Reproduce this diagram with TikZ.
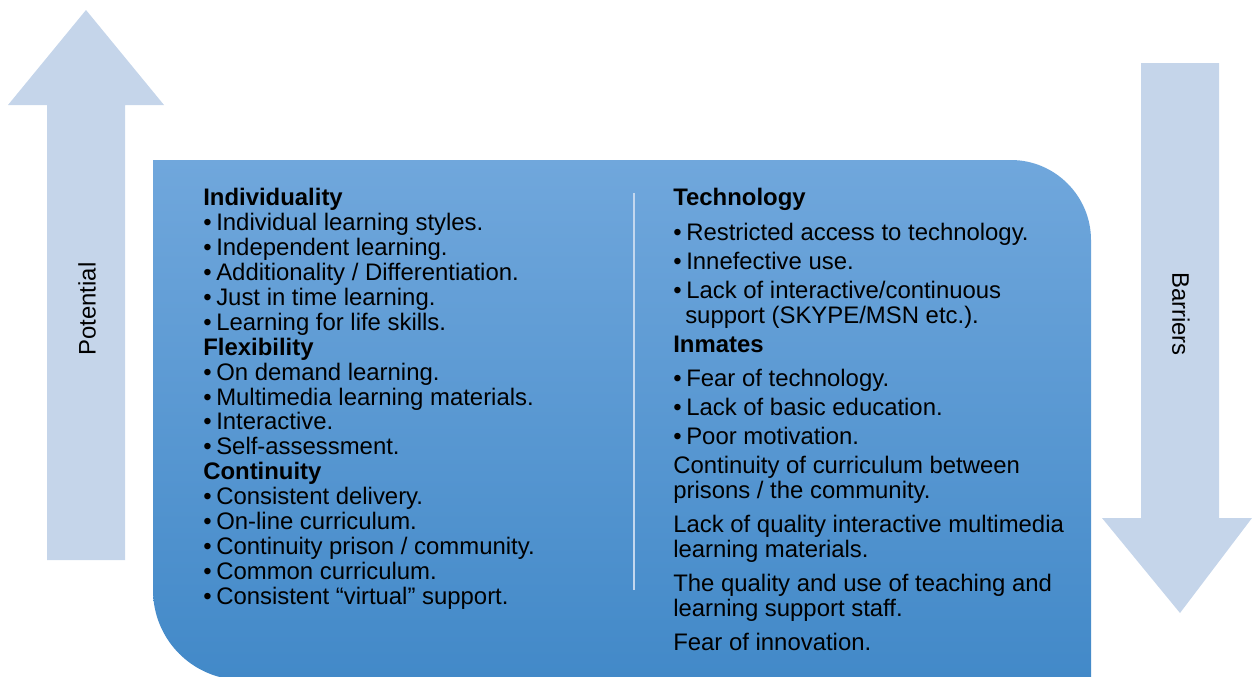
\documentclass[tikz,border=0pt]{standalone}
\usepackage{fontspec}
\setmainfont{Liberation Sans}
\usetikzlibrary{positioning}
\definecolor{arrowblue}{RGB}{197,213,234}
\definecolor{boxtop}{RGB}{112,167,220}
\definecolor{boxbottom}{RGB}{66,137,200}
\definecolor{divider}{RGB}{195,215,238}
\tikzset{
  item/.style={anchor=base west, inner sep=0pt, font=\fontsize{17}{20}\selectfont},
  head/.style={item, font=\fontsize{17}{20}\selectfont\bfseries},
  bigarrow/.style={fill=arrowblue, draw=none},
  side/.style={inner sep=0pt, font=\fontsize{17}{20}\selectfont}
}
\newcommand{\bul}{\textbullet\hspace{3.3pt}}

\begin{document}
\begin{tikzpicture}[x=0.025cm,y=-0.025cm]
  \useasboundingbox (0,0) rectangle (1252,677);
  \clip (0,0) rectangle (1252,677);
  % arrows at the sides
  \path[bigarrow] (86,10) -- (164,105) -- (125,105) -- (125,560) -- (47,560)
    -- (47,105) -- (8,105) -- cycle;
  \path[bigarrow] (1141,63) -- (1219,63) -- (1219,518) -- (1252,518) -- (1180,613)
    -- (1102,518) -- (1141,518) -- cycle;
  \node[side, rotate=90] (potential) at (87,309) {Potential};
  \node[side, rotate=-90] (barriers) at (1181,314) {Barriers};
  % the box
  \path[top color=boxtop, bottom color=boxbottom] (153,160) -- (1011,160)
    .. controls (1055,160) and (1091,196) .. (1091,240) -- (1091,680) -- (243,680)
    .. controls (193,680) and (153,640) .. (153,590) -- cycle;
  \draw[divider, line width=0.05cm] (634,193) -- (634,590);
  % left column
  \foreach \n/\t in {0/Individuality, 6/Flexibility, 11/Continuity}
    \node[head] (pothead\n) at (203,{205.5+24.94*\n}) {\t};
  \foreach \n/\t in {1/{Individual learning styles.}, 2/{Independent learning.},
      3/{Additionality / Differentiation.}, 4/{Just in time learning.},
      5/{Learning for life skills.}, 7/{On demand learning.},
      8/{Multimedia learning materials.}, 9/{Interactive.}, 10/{Self-assessment.},
      12/{Consistent delivery.}, 13/{On-line curriculum.},
      14/{Continuity prison / community.}, 15/{Common curriculum.},
      16/{Consistent “virtual” support.}}
    \node[item] (pot\n) at (203,{205.5+24.94*\n}) {\bul\t};
  % right column
  \node[head] (barhead1) at (673,205) {Technology};
  \node[head] (barhead2) at (673,352) {Inmates};
  \foreach \y/\t [count=\i] in {240/{Restricted access to technology.},
      269/{Innefective use.}, 298/{Lack of interactive/continuous},
      386/{Fear of technology.}, 415/{Lack of basic education.},
      444/{Poor motivation.}}
    \node[item] (bar\i) at (673,\y) {\bul\t};
  \node[item] (barwrap) at (685,323) {support (SKYPE/MSN etc.).};
  \foreach \y/\t [count=\i] in {473/{Continuity of curriculum between},
      498/{prisons / the community.}, 532/{Lack of quality interactive multimedia},
      557/{learning materials.}, 591/{The quality and use of teaching and},
      616/{learning support staff.}, 650/{Fear of innovation.}}
    \node[item] (barline\i) at (673,\y) {\t};
\end{tikzpicture}
\end{document}
